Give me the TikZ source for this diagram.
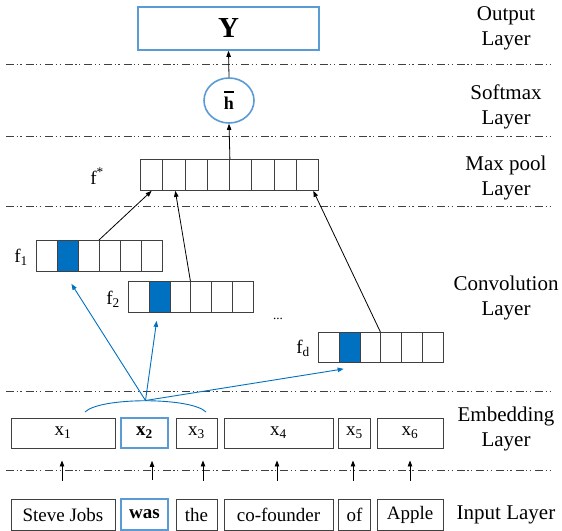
\documentclass[tikz,border=0pt]{standalone}
\usepackage{fontspec}
\setmainfont{Liberation Serif}
\usetikzlibrary{arrows.meta,calc,shapes.geometric}
\definecolor{lineblue}{RGB}{91,155,213}
\definecolor{darkblue}{RGB}{0,112,192}
\definecolor{boxgray}{RGB}{64,64,64}

\begin{document}
\begin{tikzpicture}[x=1bp,y=-1bp,
  wordbox/.style={draw=boxgray, line width=0.9bp, minimum height=31bp, inner sep=0pt,
    font=\fontsize{19bp}{22bp}\selectfont},
  keybox/.style={wordbox, draw=lineblue, line width=1.6bp},
  cell/.style={draw=boxgray, line width=0.9bp, minimum width=21bp, minimum height=31bp,
    inner sep=0pt, anchor=north west},
  plain/.style={},
  hot/.style={fill=darkblue},
  layerlabel/.style={font=\fontsize{21bp}{25bp}\selectfont, align=center},
  maplabel/.style={font=\fontsize{19bp}{22bp}\selectfont, inner sep=0pt},
  sep/.style={draw=black!75, line width=0.7bp,
    dash pattern=on 8bp off 2.5bp on 1.3bp off 2.5bp on 1.3bp off 4bp},
  tip/.style={-{Triangle[length=6bp,width=4.5bp]}, line width=0.8bp},
  bluetip/.style={-{Triangle[length=6bp,width=4.5bp]}, draw=darkblue, line width=0.9bp},
]
\useasboundingbox (0,0) rectangle (562,531);

% layer separators
\foreach \k/\y in {1/64,2/136,3/206,4/391,5/470}{
  \coordinate (sl\k) at (6,\y);
  \coordinate (sr\k) at (554,\y);
  \draw[sep] (sl\k) -- (sr\k);
}

% layer names
\node[layerlabel] (lOut)  at (506,28)    {Output\\Layer};
\node[layerlabel] (lSoft) at (506,107)   {Softmax\\Layer};
\node[layerlabel] (lPool) at (506,177.5) {Max pool\\Layer};
\node[layerlabel] (lConv) at (506,297.5) {Convolution\\Layer};
\node[layerlabel] (lEmb)  at (506,429)   {Embedding\\Layer};
\node[layerlabel] (lIn)   at (506,515)   {Input Layer};

% input words
\node[wordbox, minimum width=104bp] (w1) at (63,514.5)  {Steve Jobs};
\node[keybox,  minimum width=47bp]  (w2) at (144.5,514.5) {\textbf{was}};
\node[wordbox, minimum width=41bp]  (w3) at (196.5,514.5) {the};
\node[wordbox, minimum width=109bp] (w4) at (278.5,514.5) {co-founder};
\node[wordbox, minimum width=32bp]  (w5) at (354.5,514.5) {of};
\node[wordbox, minimum width=66bp]  (w6) at (410,514.5)   {Apple};

% embeddings
\node[wordbox, minimum width=104bp, minimum height=30bp] (e1) at (63,433)    {x\textsubscript{1}};
\node[keybox,  minimum width=47bp,  minimum height=30bp] (e2) at (144.5,433) {\textbf{x\textsubscript{2}}};
\node[wordbox, minimum width=41bp,  minimum height=30bp] (e3) at (196.5,433) {x\textsubscript{3}};
\node[wordbox, minimum width=109bp, minimum height=30bp] (e4) at (278.5,433) {x\textsubscript{4}};
\node[wordbox, minimum width=32bp,  minimum height=30bp] (e5) at (354.5,433) {x\textsubscript{5}};
\node[wordbox, minimum width=66bp,  minimum height=30bp] (e6) at (410,433)   {x\textsubscript{6}};

% word -> embedding arrows
\foreach \k/\dx in {1/-1,2/7.5,3/6.5,4/-1.5,5/-1.5,6/0}{
  \draw[tip] ([xshift=\dx bp,yshift=18bp]w\k.north) -- ([xshift=\dx bp,yshift=-12bp]e\k.south);
}

% feature maps
\foreach \i/\s in {1/plain,2/hot,3/plain,4/plain,5/plain,6/plain}{
  \node[cell,\s] (fa\i) at ({36+(\i-1)*21},240) {};
  \node[cell,\s, minimum width=20.8bp] (fb\i) at ({128+(\i-1)*20.8},281) {};
  \node[cell,\s, minimum width=20.8bp, minimum height=30bp] (fd\i) at ({318+(\i-1)*20.8},332) {};
}
\node[maplabel] (la) at (21,257) {f\textsubscript{1}};
\node[maplabel] (lb) at (113,299) {f\textsubscript{2}};
\node[maplabel] (ld) at (303,348) {f\textsubscript{d}};
\node[font=\fontsize{13bp}{14bp}\selectfont, inner sep=0pt] (dots) at (278,319) {...};

% pooled vector
\foreach \i in {1,...,8}{
  \node[cell, minimum width=22.25bp] (fs\i) at ({140+(\i-1)*22.25},159) {};
}
\node[maplabel] (ls) at (97,176) {f\textsuperscript{*}};

% softmax and output
\node[ellipse, draw=lineblue, line width=1.6bp, minimum width=50bp, minimum height=45bp,
  inner sep=0pt, font=\bfseries\fontsize{18bp}{20bp}\selectfont] (h) at (229,100.5)
  {\shortstack{\rule{9.5bp}{1.6bp}\\[1.5bp]h}};
\node[draw=lineblue, line width=1.6bp, minimum width=181bp, minimum height=43bp,
  font=\bfseries\fontsize{29bp}{30bp}\selectfont] (Y) at (228.5,28.5) {Y};

% pooling arrows
\draw[tip] (fa4.north west) -- (fs1.south);
\draw[tip] (fb4.north west) -- ([xshift=1.5bp]fs2.south);
\draw[tip] (fd4.north west) -- ([xshift=6bp]fs8.south);
\draw[tip] (fs4.north east) -- (h.south);
\draw[tip] (h.north) -- (Y.south);

% convolution window over x1..x3
\coordinate (arcL) at (85,412);
\coordinate (arcR) at (206,412);
\coordinate (hub) at (145.5,400.5);
\draw[darkblue, line width=0.9bp] (arcL) .. controls (100,397) and (191,397) .. (arcR);
\draw[bluetip] (hub) -- ([xshift=3.5bp,yshift=-12bp]fa2.south);
\draw[bluetip] (hub) -- ([xshift=-3bp,yshift=-8bp]fb2.south);
\draw[bluetip] (hub) -- ([xshift=-6bp,yshift=-6bp]fd2.south);
\end{tikzpicture}
\end{document}
